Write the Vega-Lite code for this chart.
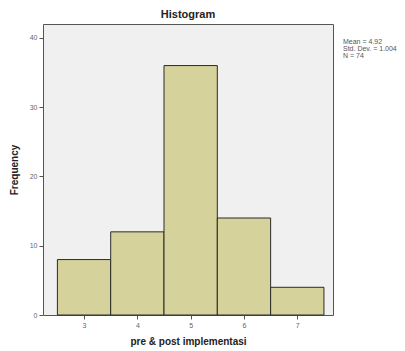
{
  "$schema": "https://vega.github.io/schema/vega-lite/v6.json",
  "autosize": {"type": "none"},
  "width": 290,
  "height": 291,
  "padding": {"left": 43, "top": 24, "right": 72, "bottom": 36},
  "background": "white",
  "title": {"text": "Histogram", "font": "Liberation Sans", "fontSize": 11, "fontWeight": "bold", "color": "#222", "offset": 4, "anchor": "middle"},
  "config": {
    "view": {"fill": "#f0f0f0", "stroke": "#555", "strokeWidth": 1},
    "font": "Liberation Sans"
  },
  "layer": [
    {
      "data": {"values": [
        {"bin_start": 2.5, "bin_end": 3.5, "count": 8},
        {"bin_start": 3.5, "bin_end": 4.5, "count": 12},
        {"bin_start": 4.5, "bin_end": 5.5, "count": 36},
        {"bin_start": 5.5, "bin_end": 6.5, "count": 14},
        {"bin_start": 6.5, "bin_end": 7.5, "count": 4}
      ]},
      "mark": {"type": "rect", "fill": "#d6d29c", "stroke": "#2a2a2a", "strokeWidth": 1},
      "encoding": {
        "x": {"field": "bin_start", "type": "quantitative",
              "scale": {"domain": [2.23, 7.67], "nice": false, "zero": false},
              "axis": {"values": [3, 4, 5, 6, 7], "format": "d", "title": "pre & post implementasi", "titleFontSize": 10, "titleFontWeight": "bold", "titleColor": "#222", "titlePadding": 8, "labelFontSize": 7, "labelColor": "#666", "tickColor": "#555", "tickSize": 4, "domain": false, "grid": false}},
        "x2": {"field": "bin_end"},
        "y": {"field": "count", "type": "quantitative",
              "scale": {"domain": [0, 42], "nice": false},
              "axis": {"values": [0, 10, 20, 30, 40], "format": "d", "title": "Frequency", "titleFontSize": 10, "titleFontWeight": "bold", "titleColor": "#222", "titlePadding": 10, "labelFontSize": 7, "labelColor": "#666", "tickColor": "#555", "tickSize": 4, "domain": false, "grid": false}},
        "y2": {"datum": 0}
      }
    },
    {
      "data": {"values": [
        {"stats": "Mean = 4.92\nStd. Dev. = 1.004\nN = 74"}
      ]},
      "mark": {"type": "text", "align": "left", "baseline": "top", "fontSize": 7, "lineHeight": 7, "lineBreak": "\n", "color": "#555", "clip": false, "dx": 10},
      "encoding": {
        "x": {"datum": 7.67, "type": "quantitative"},
        "y": {"datum": 40.0, "type": "quantitative"},
        "text": {"field": "stats"}
      }
    }
  ]
}
